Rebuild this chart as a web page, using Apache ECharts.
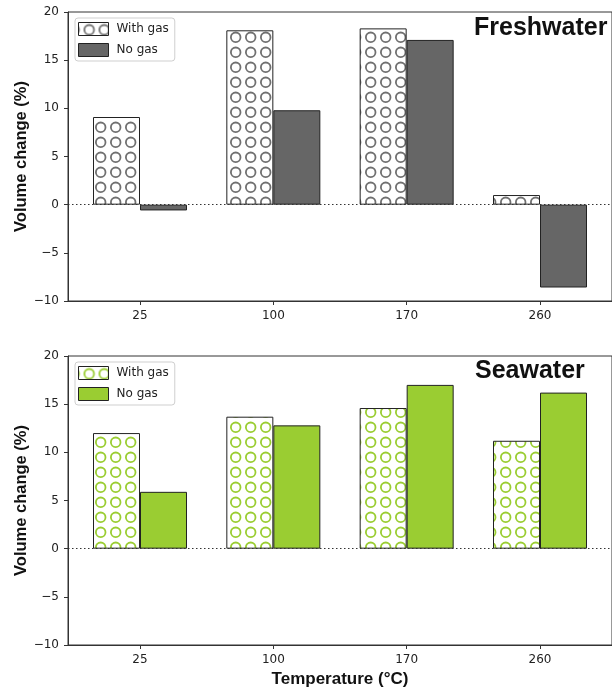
<!DOCTYPE html>
<html>
<head>
<meta charset="utf-8">
<script src="https://cdn.jsdelivr.net/npm/echarts@6/dist/echarts.min.js"></script>
<style>
  html, body { margin: 0; padding: 0; background: #fff; }
  #main { width: 612px; height: 691px; }
</style>
</head>
<body>
<div id="main"></div>
<script>
// temperatures (category labels)
var temps = ['25', '100', '170', '260'];
// freshwater panel
var freshWithGas = [9.1, 18.1, 18.3, 1.0];
var freshNoGas = [-0.6, 9.8, 17.1, -8.6];
// seawater panel
var seaWithGas = [12.0, 13.7, 14.6, 11.2];
var seaNoGas = [5.9, 12.8, 17.0, 16.2];
// y ticks
var yMin = -10, yMax = 20, yStep = 5;
var xTicks = [0, 1, 2, 3];

/**
 * circle hatch, like matplotlib 'o'
 */
function makeHatch(color) {
    var c = document.createElement('canvas');
    c.width = 15; c.height = 15;
    var ctx = c.getContext('2d');
    ctx.fillStyle = '#fff';
    ctx.fillRect(0, 0, 15, 15);
    ctx.strokeStyle = color;
    ctx.lineWidth = 1.8;
    for (var dx = -15; dx <= 15; dx += 15) {
        for (var dy = -15; dy <= 15; dy += 15) {
            ctx.beginPath();
            ctx.arc(10.7 + dx, 7.3 + dy, 4.8, 0, Math.PI * 2);
            ctx.stroke();
        }
    }
    return { image: c, repeat: 'repeat' };
}

function pairs(arr) {
    var out = [];
    for (var i = 0; i < arr.length; i++) out.push([i, arr[i]]);
    return out;
}

function minusFmt(v) {
    return v < 0 ? '\u2212' + Math.abs(v) : String(v);
}

var grayHatch = makeHatch('#707070');
var greenHatch = makeHatch('#9acd32');
var tickFont = { fontFamily: 'DejaVu Sans', fontSize: 12, color: '#222' };
var boldFont = 'Liberation Sans';

var grids = [
    { left: 68, top: 12, width: 547, height: 289 },
    { left: 68, top: 356, width: 547, height: 289 }
];

function makeX(idx, name) {
    return {
        type: 'value', gridIndex: idx, min: -0.54, max: 3.54,
        splitLine: { show: false },
        axisLine: { show: true, onZero: false, lineStyle: { color: '#333', width: 1 } },
        axisTick: { show: true, customValues: xTicks, length: 4, lineStyle: { color: '#333' } },
        axisLabel: Object.assign({ customValues: xTicks, margin: 9, formatter: function (v) { return temps[Math.round(v)]; } }, tickFont),
        name: name, nameLocation: 'middle', nameGap: 26, nameMoveOverlap: false,
        nameTextStyle: { fontFamily: boldFont, fontWeight: 'bold', fontSize: 17, color: '#111' }
    };
}

function makeY(idx) {
    return {
        type: 'value', gridIndex: idx, min: yMin, max: yMax, interval: yStep,
        splitLine: { show: false },
        axisLine: { show: true, onZero: false, lineStyle: { color: '#333', width: 1 } },
        axisTick: { show: true, length: 4, lineStyle: { color: '#333' } },
        axisLabel: Object.assign({ margin: 9, formatter: minusFmt }, tickFont),
        name: 'Volume change (%)', nameLocation: 'middle', nameGap: 38, nameMoveOverlap: false,
        nameTextStyle: { fontFamily: boldFont, fontWeight: 'bold', fontSize: 16.5, color: '#111' }
    };
}

function barSeries(name, idx, data, color) {
    return {
        type: 'bar', name: name, xAxisIndex: idx, yAxisIndex: idx,
        data: pairs(data), barWidth: 47, barGap: '0%',
        itemStyle: { color: color, borderColor: '#222', borderWidth: 1 },
        emphasis: { disabled: true }
    };
}

function makeLegend(top, hatch, solid) {
    return {
        orient: 'vertical', left: 75, top: top,
        itemWidth: 30, itemHeight: 13, itemGap: 7,
        padding: [4, 6, 4, 3],
        borderColor: '#cfcfcf', borderWidth: 1, borderRadius: 3,
        backgroundColor: 'rgba(255,255,255,0.8)',
        icon: 'rect',
        textStyle: { fontFamily: 'DejaVu Sans', fontSize: 12, color: '#222', lineHeight: 13, padding: [0, 0, 0, 3] },
        data: [
            { name: 'With gas', itemStyle: { color: hatch, borderColor: '#222', borderWidth: 1 } },
            { name: 'No gas', itemStyle: { color: solid, borderColor: '#222', borderWidth: 1 } }
        ]
    };
}

var zeroLine = {
    silent: true, symbol: 'none', label: { show: false },
    lineStyle: { color: '#333', type: [1.5, 2.5], width: 1.2 },
    data: [{ yAxis: 0 }]
};

var s1 = barSeries('With gas', 0, freshWithGas, grayHatch);
var s2 = barSeries('No gas', 0, freshNoGas, '#666666');
var s3 = barSeries('With gas', 1, seaWithGas, greenHatch);
var s4 = barSeries('No gas', 1, seaNoGas, '#9acd32');
s2.markLine = zeroLine;
s4.markLine = zeroLine;

var chart = echarts.init(document.getElementById('main'), null, { renderer: 'canvas' });
chart.setOption({
    animation: false,
    backgroundColor: '#fff',
    grid: grids.map(function (g) { return Object.assign({ show: true, borderColor: '#333', borderWidth: 1 }, g); }),
    xAxis: [makeX(0, ''), makeX(1, 'Temperature (\u00b0C)')],
    yAxis: [makeY(0), makeY(1)],
    legend: [makeLegend(18, grayHatch, '#666666'), makeLegend(362, greenHatch, '#9acd32')],
    graphic: [
        { type: 'text', x: 474, y: 28, style: { text: 'Freshwater', font: 'bold 25px Liberation Sans', fill: '#111', textVerticalAlign: 'middle' } },
        { type: 'text', x: 475, y: 371, style: { text: 'Seawater', font: 'bold 25px Liberation Sans', fill: '#111', textVerticalAlign: 'middle' } }
    ],
    series: [s1, s2, s3, s4]
});
</script>
</body>
</html>
